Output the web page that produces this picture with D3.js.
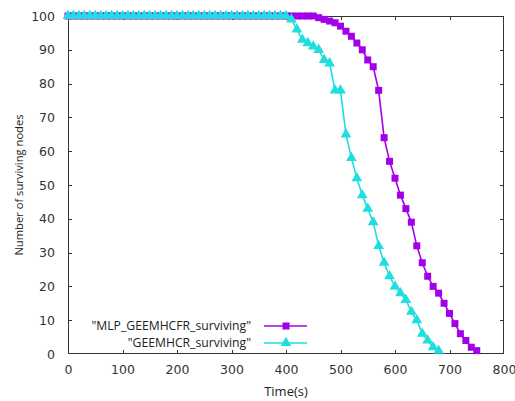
<!DOCTYPE html>
<html>
<head>
<meta charset="utf-8">
<script src="https://cdn.jsdelivr.net/npm/d3@7/dist/d3.min.js"></script>
<style>
  body { margin: 0; background: #fff; }
  svg { display: block; }
</style>
</head>
<body>
<svg id="chart" width="515" height="401"></svg>
<script>
// ---- data ----
const mlpTimes = [0,10,20,30,40,50,60,70,80,90,100,110,120,130,140,150,160,170,180,190,200,210,220,230,240,250,260,270,280,290,300,310,320,330,340,350,360,370,380,390,400,410,420,430,440,450,
  460,470,480,490,500,510,520,530,540,550,560,570,580,590,600,610,620,630,640,650,660,670,680,690,700,710,720,730,740,750];
const mlpValues = [100,100,100,100,100,100,100,100,100,100,100,100,100,100,100,100,100,100,100,100,100,100,100,100,100,100,100,100,100,100,100,100,100,100,100,100,100,100,100,100,100,100,100,100,100,100,
  99.5,99,98.5,98,97,95.5,94,92,90,87,85,78,64,57,52,47,43,39,32,27,23,20,18,15,12,9,6,4,2,1];
const geeTimes = [0,10,20,30,40,50,60,70,80,90,100,110,120,130,140,150,160,170,180,190,200,210,220,230,240,250,260,270,280,290,300,310,320,330,340,350,360,370,380,390,400,
  410,420,430,440,450,460,470,480,490,500,510,520,530,540,550,560,570,580,590,600,610,620,630,640,650,660,670,680];
const geeValues = [100,100,100,100,100,100,100,100,100,100,100,100,100,100,100,100,100,100,100,100,100,100,100,100,100,100,100,100,100,100,100,100,100,100,100,100,100,100,100,100,100,
  99,96,93,92,91,90,87,86,78,78,65,58,52,47,43,39,32,27,23,20,18,16,12.5,10,6,4,2,1];
const xTicks = [0,100,200,300,400,500,600,700,800];
const yTicks = [0,10,20,30,40,50,60,70,80,90,100];
const seriesNames = ['"MLP_GEEMHCFR_surviving"', '"GEEMHCR_surviving"'];
const xLabel = "Time(s)";
const yLabel = "Number of surviving nodes";

// ---- layout ----
const svg = d3.select("#chart");
const L = 68, R = 504, T = 16, B = 354;
const x = d3.scaleLinear().domain([0, 800]).range([L, R]);
const y = d3.scaleLinear().domain([0, 100]).range([B, T]);

const purple = "#a300ea";
const cyan = "#1fdede";

// ticks (inward, mirrored)
const tl = 4;
const gAx = svg.append("g").attr("stroke", "#333").attr("stroke-width", 1);
xTicks.slice(1, -1).forEach(t => {
  const px = Math.round(x(t)) + 0.5;
  gAx.append("line").attr("x1", px).attr("x2", px).attr("y1", B).attr("y2", B - tl);
  gAx.append("line").attr("x1", px).attr("x2", px).attr("y1", T).attr("y2", T + tl);
});
yTicks.slice(1, -1).forEach(t => {
  const py = Math.round(y(t)) + 0.5;
  gAx.append("line").attr("x1", L).attr("x2", L + tl).attr("y1", py).attr("y2", py);
  gAx.append("line").attr("x1", R).attr("x2", R - tl).attr("y1", py).attr("y2", py);
});

// axis tick labels via d3 axes (lines hidden)
const xAxis = svg.append("g").attr("transform", `translate(0,${B})`)
  .call(d3.axisBottom(x).tickValues(xTicks).tickSize(0).tickPadding(11).tickFormat(d3.format("d")));
const yAxis = svg.append("g").attr("transform", `translate(${L},0)`)
  .call(d3.axisLeft(y).tickValues(yTicks).tickSize(0).tickPadding(13).tickFormat(d3.format("d")));
[xAxis, yAxis].forEach(g => {
  g.select(".domain").remove();
  g.selectAll("text").attr("font-family", "DejaVu Sans, Verdana, sans-serif").attr("font-size", 12.5).attr("fill", "#333");
});

// border
svg.append("rect").attr("x", L + 0.5).attr("y", T + 0.5).attr("width", R - L - 1).attr("height", B - T - 1)
  .attr("fill", "none").attr("stroke", "#333").attr("stroke-width", 1);

// series
const line = d3.line().x(d => x(d[0])).y(d => y(d[1]));
const mlp = mlpTimes.map((t, i) => [t, mlpValues[i]]);
const gee = geeTimes.map((t, i) => [t, geeValues[i]]);

function drawSeries(data, color, shape) {
  const g = svg.append("g");
  g.append("path").datum(data).attr("d", line).attr("fill", "none").attr("stroke", color).attr("stroke-width", 1.6);
  const sym = d3.symbol().type(shape).size(shape === d3.symbolSquare ? 49 : 50);
  g.selectAll("path.m").data(data).join("path").attr("class", "m")
    .attr("transform", d => `translate(${x(d[0])},${y(d[1])})`)
    .attr("d", sym).attr("fill", color);
}
drawSeries(mlp, purple, d3.symbolSquare);
drawSeries(gee, cyan, d3.symbolTriangle);

// legend
const leg = svg.append("g");
const legRows = [{name: seriesNames[0], color: purple, shape: d3.symbolSquare, yy: 326},
                 {name: seriesNames[1], color: cyan, shape: d3.symbolTriangle, yy: 343}];
legRows.forEach(r => {
  leg.append("text").attr("x", 251).attr("y", r.yy).attr("dy", "0.35em").attr("text-anchor", "end")
    .attr("font-family", "Open Sans, sans-serif").attr("font-size", 12.2).attr("fill", "#222").text(r.name);
  leg.append("line").attr("x1", 264).attr("x2", 307).attr("y1", r.yy).attr("y2", r.yy)
    .attr("stroke", r.color).attr("stroke-width", 1.6);
  leg.append("path").attr("transform", `translate(286,${r.yy})`)
    .attr("d", d3.symbol().type(r.shape).size(50)).attr("fill", r.color);
});

// axis titles
svg.append("text").attr("x", (L + R) / 2).attr("y", 391).attr("dy", "0.35em").attr("text-anchor", "middle")
  .attr("font-family", "Open Sans, sans-serif").attr("font-size", 13).attr("fill", "#222").text(xLabel);
svg.append("text").attr("transform", `translate(19,${(T + B) / 2}) rotate(-90)`).attr("dy", "0.35em")
  .attr("text-anchor", "middle").attr("font-family", "Open Sans, sans-serif").attr("font-size", 11.2)
  .attr("fill", "#222").text(yLabel);
</script>
</body>
</html>
